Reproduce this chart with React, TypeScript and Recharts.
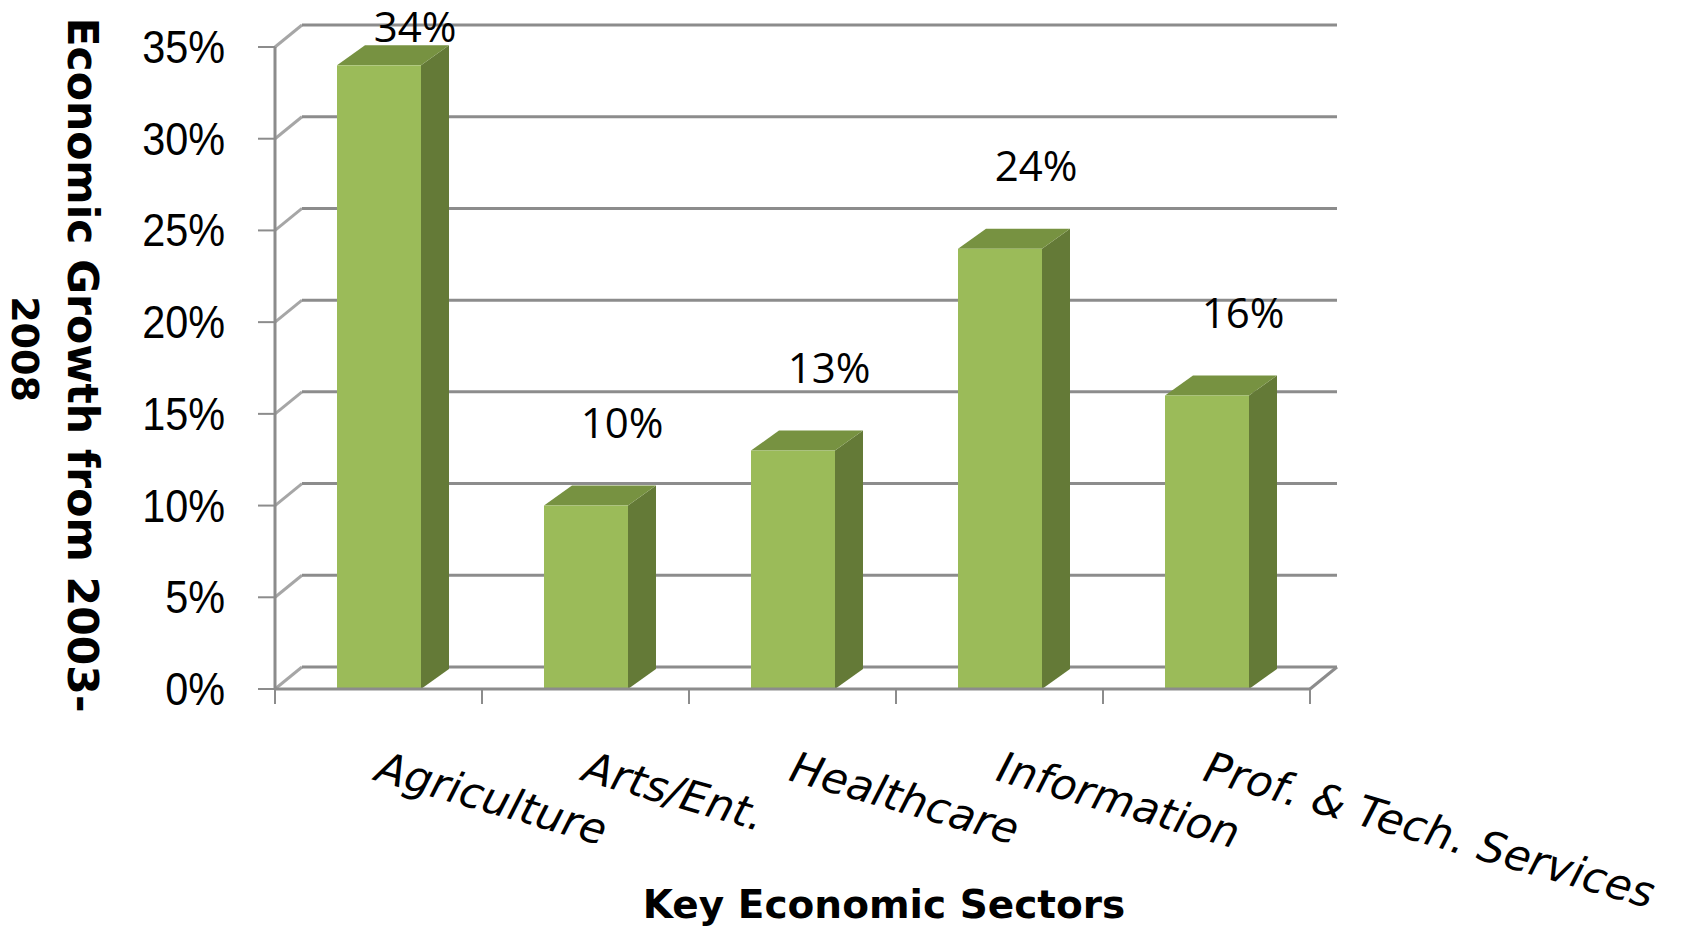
import { Bar, BarChart, CartesianGrid, LabelList, XAxis, YAxis } from "recharts";

const sectors = ["Agriculture", "Arts/Ent.", "Healthcare", "Information", "Prof. & Tech. Services"];
const growth = [0.34, 0.1, 0.13, 0.24, 0.16];
const yTicks = [0, 0.05, 0.1, 0.15, 0.2, 0.25, 0.3, 0.35];

const data = sectors.map((sector, i) => ({ sector, growth: growth[i] }));

// layout
const W = 1694;
const H = 934;
const PLOT_LEFT = 275;
const PLOT_RIGHT = 1310;
const PLOT_TOP = 47;
const PLOT_BOTTOM = 689;
const BAND = (PLOT_RIGHT - PLOT_LEFT) / sectors.length;
const DX = 27; // depth offset of the back wall
const DY = 22;
const BAR_DX = 28;
const BAR_DY = 20;
const GRID = "#8c8c8c";

const pct = (v: number) => `${Math.round(v * 100)}%`;

function GridLine(props: any) {
  const { x1, y1, x2 } = props;
  const floor = Math.abs(y1 - PLOT_BOTTOM) < 1;
  return (
    <g key={props.key}>
      <line x1={x1} y1={y1} x2={x1 + DX} y2={y1 - DY} stroke="#a6a6a6" strokeWidth={3} />
      <line x1={x1 + DX} y1={y1 - DY} x2={x2 + DX} y2={y1 - DY} stroke={GRID} strokeWidth={3} />
      {floor && <line x1={x2} y1={y1} x2={x2 + DX} y2={y1 - DY} stroke={GRID} strokeWidth={3} />}
    </g>
  );
}

function Box(props: any) {
  const { x, y, width, height } = props;
  if (height == null || height <= 0) return null;
  const r = x + width;
  const b = y + height;
  return (
    <g>
      <polygon points={`${r},${y} ${r + BAR_DX},${y - BAR_DY} ${r + BAR_DX},${b - BAR_DY} ${r},${b}`} fill="#647a37" />
      <polygon points={`${x},${y} ${x + BAR_DX},${y - BAR_DY} ${r + BAR_DX},${y - BAR_DY} ${r},${y}`} fill="#779241" />
      <rect x={x} y={y} width={width} height={height} fill="#9bbb59" />
    </g>
  );
}

function TopLabel(props: any) {
  const { x, y, width, value } = props;
  return (
    <text
      x={x + width / 2 + 36}
      y={Math.max(y - 68, 42)}
      textAnchor="middle"
      fontFamily="'Open Sans', sans-serif"
      fontSize={42}
      fill="#000"
    >
      {pct(value)}
    </text>
  );
}

function YTick(props: any) {
  const { y, payload } = props;
  return (
    <text
      transform={`translate(${PLOT_LEFT - 50},${y + 16}) scale(0.9,1)`}
      textAnchor="end"
      fontFamily="'Liberation Sans', Arial, sans-serif"
      fontSize={46}
      fill="#000"
    >
      {pct(payload.value)}
    </text>
  );
}

function XTick(props: any) {
  const { x, payload, index } = props;
  const left = x - BAND / 2;
  const ty = PLOT_BOTTOM + 91;
  return (
    <g>
      <line x1={left} y1={PLOT_BOTTOM} x2={left} y2={PLOT_BOTTOM + 15} stroke={GRID} strokeWidth={2} />
      {index === sectors.length - 1 && (
        <line x1={left + BAND} y1={PLOT_BOTTOM} x2={left + BAND} y2={PLOT_BOTTOM + 15} stroke={GRID} strokeWidth={2} />
      )}
      <text
        x={x - 5}
        y={ty}
        transform={`rotate(16, ${x - 5}, ${ty})`}
        textAnchor="start"
        fontFamily="'DejaVu Sans', sans-serif"
        fontStyle="oblique"
        fontSize={43}
        fill="#000"
      >
        {payload.value}
      </text>
    </g>
  );
}

export default function App() {
  return (
    <div style={{ position: "absolute", left: 0, top: 0, width: W, height: H, background: "#fff" }}>
      <BarChart
        width={W}
        height={H}
        data={data}
        margin={{ top: PLOT_TOP, right: W - PLOT_RIGHT, bottom: 0, left: 0 }}
        barSize={84}
      >
        <CartesianGrid vertical={false} horizontal={GridLine} />
        <XAxis
          dataKey="sector"
          height={H - PLOT_BOTTOM}
          interval={0}
          tickLine={false}
          axisLine={{ stroke: GRID, strokeWidth: 3 }}
          tick={XTick}
        />
        <YAxis
          width={PLOT_LEFT}
          domain={[0, 0.35]}
          ticks={yTicks}
          interval={0}
          tickSize={17}
          tickLine={{ stroke: GRID, strokeWidth: 2 }}
          axisLine={{ stroke: GRID, strokeWidth: 3 }}
          tick={YTick}
        />
        <Bar dataKey="growth" shape={Box} isAnimationActive={false}>
          <LabelList dataKey="growth" content={TopLabel} />
        </Bar>
        <text
          x={884}
          y={918}
          textAnchor="middle"
          fontFamily="'DejaVu Sans', sans-serif"
          fontWeight="bold"
          fontSize={39}
          fill="#000"
        >
          Key Economic Sectors
        </text>
        <text
          x={68}
          y={365}
          transform="rotate(90, 68, 365)"
          textAnchor="middle"
          fontFamily="'DejaVu Sans', sans-serif"
          fontWeight="bold"
          fontSize={42.5}
          fill="#000"
        >
          Economic Growth from 2003-
        </text>
        <text
          x={12}
          y={349}
          transform="rotate(90, 12, 349)"
          textAnchor="middle"
          fontFamily="'DejaVu Sans', sans-serif"
          fontWeight="bold"
          fontSize={38}
          fill="#000"
        >
          2008
        </text>
      </BarChart>
    </div>
  );
}
